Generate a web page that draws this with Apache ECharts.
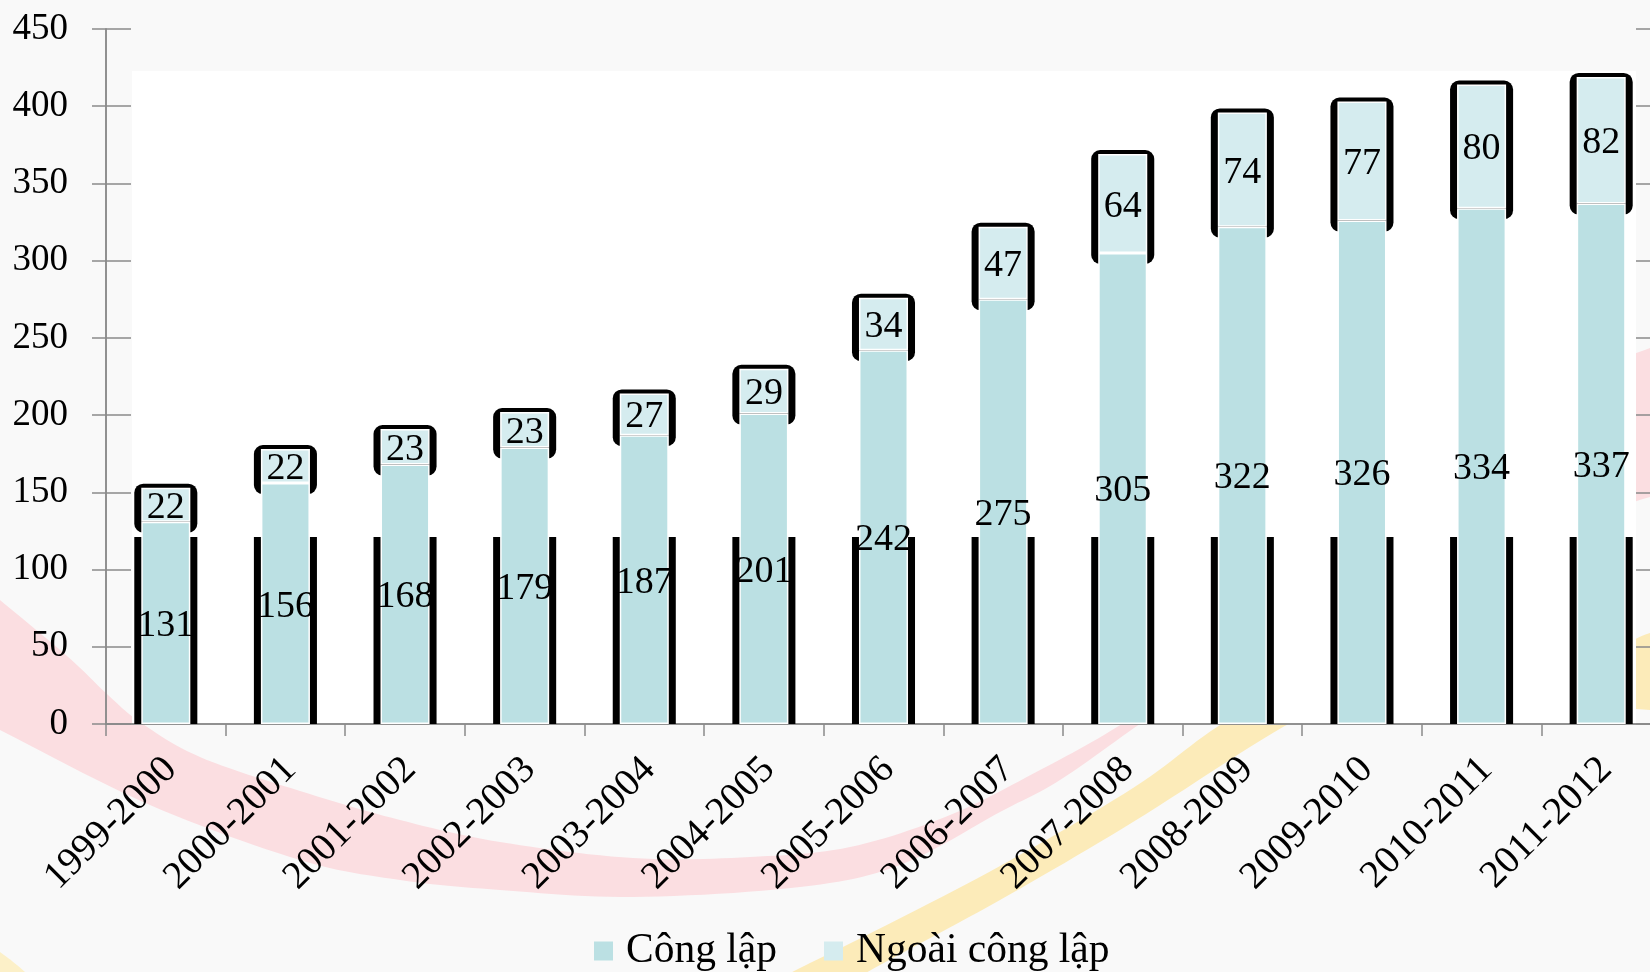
<!DOCTYPE html>
<html>
<head>
<meta charset="utf-8">
<script src="https://cdn.jsdelivr.net/npm/echarts@6/dist/echarts.min.js"></script>
<style>
  html, body { margin: 0; padding: 0; background: #f9f9f9; }
  #chart { width: 1650px; height: 972px; }
</style>
</head>
<body>
<div id="chart"></div>
<script>
// School years and number of schools by sector
const categories = ['1999-2000', '2000-2001', '2001-2002', '2002-2003', '2003-2004', '2004-2005',
  '2005-2006', '2006-2007', '2007-2008', '2008-2009', '2009-2010', '2010-2011', '2011-2012'];
const congLap = [131, 156, 168, 179, 187, 201, 242, 275, 305, 322, 326, 334, 337];
const ngoaiCongLap = [22, 22, 23, 23, 27, 29, 34, 47, 64, 74, 77, 80, 82];
const seriesNames = ['Công lập', 'Ngoài công lập'];

const FONT = '"Liberation Serif", "DejaVu Serif", serif';
const AXIS_GREY = '#8a8a8a';
const FILL_PUBLIC = '#bbe0e3';
const FILL_PRIVATE = '#d5ecef';

// Sample a Catmull-Rom curve through the given points (used for the decorative ribbons)
function curve(pts, steps) {
  const out = [];
  for (let i = 0; i < pts.length - 1; i++) {
    const p0 = pts[i - 1] || pts[i], p1 = pts[i], p2 = pts[i + 1], p3 = pts[i + 2] || pts[i + 1];
    for (let s = 0; s < steps; s++) {
      const t = s / steps, t2 = t * t, t3 = t2 * t;
      const f = (a, b, c, d) => 0.5 * ((2 * b) + (-a + c) * t + (2 * a - 5 * b + 4 * c - d) * t2 + (-a + 3 * b - 3 * c + d) * t3);
      out.push([f(p0[0], p1[0], p2[0], p3[0]), f(p0[1], p1[1], p2[1], p3[1])]);
    }
  }
  out.push(pts[pts.length - 1]);
  return out;
}
function ribbon(upper, lower) {
  return curve(upper, 12).concat(curve(lower, 12));
}

const pinkRibbon = ribbon(
  [[-30, 574], [0, 600], [67, 656], [107, 694], [140, 722], [200, 757], [300, 791], [400, 820],
   [500, 842], [633, 858], [750, 857], [850, 847], [950, 815], [1040, 770], [1117, 727],
   [1200, 670], [1400, 500], [1560, 390], [1650, 348], [1720, 330]],
  [[1720, 500], [1650, 497], [1500, 560], [1300, 650], [1180, 700], [1140, 724], [1060, 780],
   [1000, 812], [900, 865], [800, 887], [633, 897], [500, 890], [400, 880], [300, 860],
   [150, 805], [0, 730], [-30, 715]]
);
const yellowRibbon = ribbon(
  [[740, 1000], [800, 968], [867, 935], [1000, 866], [1133, 788], [1217, 727], [1300, 680],
   [1450, 640], [1600, 648], [1650, 633], [1720, 615]],
  [[1720, 712], [1650, 710], [1560, 702], [1450, 700], [1330, 712], [1283, 727], [1133, 822],
   [1000, 900], [880, 965], [820, 1000]]
);
const yellowCorner = ribbon(
  [[-20, 940], [0, 952], [25, 972], [40, 990]],
  [[0, 1000], [-20, 990]]
);

const chart = echarts.init(document.getElementById('chart'), null, { renderer: 'canvas' });

// Black frame pieces behind each column: side strips at the base and a rounded cap
// around the upper (private) segment.
function renderFrame(params, api) {
  const i = api.value(0);
  const base = api.coord([i, 0]);
  const mid = api.coord([i, api.value(1)]);
  const top = api.coord([i, api.value(2)]);
  const edge = api.coord([i, 121]);
  const catW = api.size([1, 0])[0];
  const fillW = catW * 0.41;
  const outerW = fillW + 14;
  const x = base[0] - outerW / 2;
  return {
    type: 'group',
    children: [
      { type: 'rect', shape: { x: x, y: edge[1], width: outerW, height: base[1] - edge[1] },
        style: { fill: '#000' } },
      { type: 'rect', shape: { x: x, y: top[1] - 4, width: outerW, height: (mid[1] + 11) - (top[1] - 4), r: 9 },
        style: { fill: '#000' } }
    ]
  };
}

const labelStyle = {
  show: true, position: 'inside', color: '#000', fontSize: 38, fontFamily: FONT, offset: [0, 3]
};

const option = {
  backgroundColor: '#f9f9f9',
  animation: false,
  textStyle: { fontFamily: FONT },
  graphic: [
    { type: 'polygon', z: -20, silent: true, shape: { points: pinkRibbon }, style: { fill: '#fbdee1' } },
    { type: 'polygon', z: -20, silent: true, shape: { points: yellowRibbon }, style: { fill: '#fcebb9' } },
    { type: 'polygon', z: -20, silent: true, shape: { points: yellowCorner }, style: { fill: '#fcf0c8' } },
    { type: 'rect', z: -15, silent: true, shape: { x: 132, y: 71, width: 1504, height: 652 }, style: { fill: '#ffffff' } }
  ],
  grid: { left: 106, width: 1555, top: 29, height: 695, containLabel: false, outerBoundsMode: 'none' },
  legend: {
    data: seriesNames,
    left: 589, top: 925,
    icon: 'rect', itemWidth: 19, itemHeight: 19, itemGap: 47,
    itemStyle: { borderWidth: 0 },
    textStyle: { fontSize: 41.5, color: '#000', fontFamily: FONT, padding: [0, 0, 0, 8] }
  },
  xAxis: [
    {
      type: 'category', data: categories, position: 'bottom',
      axisLine: { lineStyle: { color: AXIS_GREY, width: 1.5 } },
      axisTick: { show: true, length: 12, lineStyle: { color: AXIS_GREY, width: 1.5 } },
      axisLabel: { rotate: 45, align: 'right', verticalAlign: 'top', margin: 32, lineHeight: 18,
        padding: [0, 2, 0, 0], fontSize: 39, color: '#000', fontFamily: FONT, interval: 0 },
      splitLine: { show: false }
    },
    {
      type: 'category', data: categories, position: 'top',
      axisLine: { lineStyle: { color: AXIS_GREY, width: 1.5 } },
      axisTick: { show: false }, axisLabel: { show: false }, splitLine: { show: false }
    }
  ],
  yAxis: [
    {
      type: 'value', min: 0, max: 450, interval: 50, position: 'left',
      axisLine: { show: true, lineStyle: { color: AXIS_GREY, width: 1.5 } },
      axisTick: { show: true, length: 14, lineStyle: { color: AXIS_GREY, width: 1.5 } },
      axisLabel: { margin: 38, fontSize: 37, color: '#000', fontFamily: FONT },
      splitLine: { show: false }
    },
    {
      type: 'value', min: 0, max: 450, interval: 50, position: 'left',
      axisLine: { show: true, lineStyle: { color: AXIS_GREY, width: 1.5 } },
      axisTick: { show: true, inside: true, length: 25, lineStyle: { color: AXIS_GREY, width: 1.5 } },
      axisLabel: { show: false }, splitLine: { show: false }
    },
    {
      type: 'value', min: 0, max: 450, interval: 50, position: 'right',
      axisLine: { show: true, lineStyle: { color: AXIS_GREY, width: 1.5 } },
      axisTick: { show: true, inside: true, length: 25, lineStyle: { color: AXIS_GREY, width: 1.5 } },
      axisLabel: { show: false }, splitLine: { show: false }
    }
  ],
  series: [
    {
      type: 'custom', name: 'frame', z: 1, silent: true,
      xAxisIndex: 0, yAxisIndex: 0,
      encode: { x: 0, y: [1, 2] },
      data: categories.map((c, i) => [i, congLap[i], congLap[i] + ngoaiCongLap[i]]),
      renderItem: renderFrame
    },
    {
      type: 'bar', name: seriesNames[0], stack: 'total', z: 3, barWidth: '41%',
      data: congLap,
      itemStyle: { color: FILL_PUBLIC, borderColor: '#ffffff', borderWidth: 1.5 },
      label: labelStyle
    },
    {
      type: 'bar', name: seriesNames[1], stack: 'total', z: 3, barWidth: '41%',
      data: ngoaiCongLap,
      itemStyle: { color: FILL_PRIVATE, borderColor: '#ffffff', borderWidth: 1.5 },
      label: labelStyle
    }
  ]
};

chart.setOption(option);
</script>
</body>
</html>
